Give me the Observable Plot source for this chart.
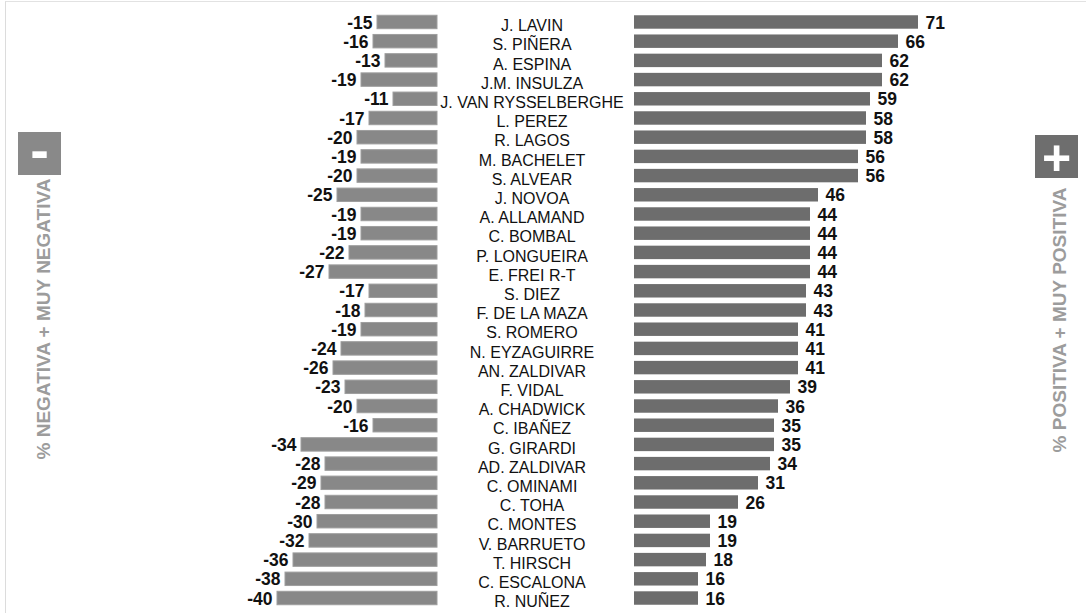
<!DOCTYPE html>
<html>
<head>
<meta charset="utf-8">
<script src="https://cdn.jsdelivr.net/npm/d3@7"></script>
<script src="https://cdn.jsdelivr.net/npm/@observablehq/plot@0.6"></script>
<style>
  html, body { margin: 0; padding: 0; background: #fff; }
  #wrap { position: relative; width: 1086px; height: 613px; overflow: hidden; font-family: "Liberation Sans", Arial, sans-serif; }
  #frame { position: absolute; left: 5px; top: 1px; right: 0; bottom: 0; border-left: 1px solid #dcdcdc; border-top: 1px solid #e2e2e2; }
  .panel { position: absolute; top: 0; }
  .box { position: absolute; width: 43px; height: 43px; color: #fff; font-weight: bold; text-align: center; }
  .vlabel { position: absolute; white-space: nowrap; font-weight: bold; font-size: 19px; color: #9c9c9c; transform: translate(-50%, -50%) rotate(-90deg); }
</style>
</head>
<body>
<div id="wrap">
  <div id="frame"></div>
  <div class="panel" id="left" style="left:0px"></div>
  <div class="panel" id="mid" style="left:437px"></div>
  <div class="panel" id="right" style="left:634px"></div>
  <div class="box" style="left:18px; top:132px; background:#898989; font-size:56px; line-height:36px;">-</div>
  <div class="box" style="left:1035px; top:135px; background:#6e6e6e; font-size:50px; line-height:46px;">+</div>
  <div class="vlabel" style="left:44px; top:319px;">% NEGATIVA + MUY NEGATIVA</div>
  <div class="vlabel" style="left:1060px; top:320px;">% POSITIVA + MUY POSITIVA</div>
</div>
<script>
const names = ["J. LAVIN","S. PIÑERA","A. ESPINA","J.M. INSULZA","J. VAN RYSSELBERGHE","L. PEREZ","R. LAGOS","M. BACHELET","S. ALVEAR","J. NOVOA","A. ALLAMAND","C. BOMBAL","P. LONGUEIRA","E. FREI R-T","S. DIEZ","F. DE LA MAZA","S. ROMERO","N. EYZAGUIRRE","AN. ZALDIVAR","F. VIDAL","A. CHADWICK","C. IBAÑEZ","G. GIRARDI","AD. ZALDIVAR","C. OMINAMI","C. TOHA","C. MONTES","V. BARRUETO","T. HIRSCH","C. ESCALONA","R. NUÑEZ"];
const negativa = [-15,-16,-13,-19,-11,-17,-20,-19,-20,-25,-19,-19,-22,-27,-17,-18,-19,-24,-26,-23,-20,-16,-34,-28,-29,-28,-30,-32,-36,-38,-40];
const positiva = [71,66,62,62,59,58,58,56,56,46,44,44,44,44,43,43,41,41,41,39,36,35,35,34,31,26,19,19,18,16,16];

const rows = names.map((n, i) => ({name: n, neg: negativa[i], pos: positiva[i]}));

const H = 613;
const yOpts = {type: "band", domain: names, padding: 0.3, round: false, axis: null};
const common = {
  height: H, marginTop: 9.5, marginBottom: 2.5, marginLeft: 0, marginRight: 0,
  style: {background: "transparent", fontFamily: "'Liberation Sans', Arial, sans-serif", overflow: "visible"}
};

const leftPlot = Plot.plot({
  ...common,
  width: 437,
  x: {domain: [-437 / 4, 0], axis: null},
  y: yOpts,
  marks: [
    Plot.barX(rows, {x1: "neg", x2: 0, y: "name", fill: "#888888", stroke: "#9e9e9e", strokeWidth: 1}),
    Plot.text(rows, {x: "neg", y: "name", text: d => String(d.neg), textAnchor: "end", dx: -5, dy: 0.5, fontSize: 17.5, fontWeight: "bold", fill: "#111"})
  ]
});

const midPlot = Plot.plot({
  ...common,
  width: 197,
  y: yOpts,
  marks: [
    Plot.text(rows, {y: "name", frameAnchor: "middle", text: "name", dx: -4, dy: 3.5, fontSize: 16, fill: "#111"})
  ]
});

const rightPlot = Plot.plot({
  ...common,
  width: 452,
  x: {domain: [0, 452 / 4], axis: null},
  y: yOpts,
  marks: [
    Plot.barX(rows, {x1: 0, x2: "pos", y: "name", fill: "#6d6d6d"}),
    Plot.text(rows, {x: "pos", y: "name", text: d => String(d.pos), textAnchor: "start", dx: 7, dy: 0.5, fontSize: 17.5, fontWeight: "bold", fill: "#111"})
  ]
});

document.getElementById("left").appendChild(leftPlot);
document.getElementById("mid").appendChild(midPlot);
document.getElementById("right").appendChild(rightPlot);
</script>
</body>
</html>
